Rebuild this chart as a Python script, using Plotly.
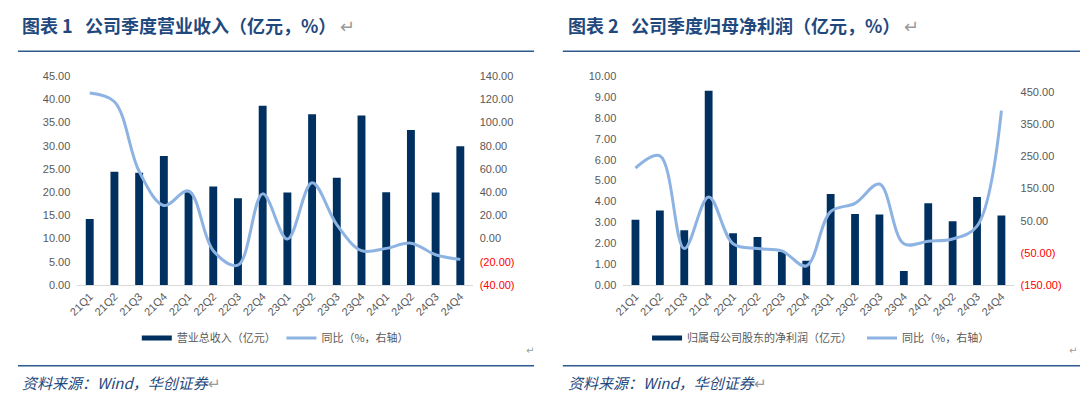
import plotly.graph_objects as go

# ---------------- data ----------------
quarters = ["21Q1", "21Q2", "21Q3", "21Q4", "22Q1", "22Q2", "22Q3", "22Q4",
            "23Q1", "23Q2", "23Q3", "23Q4", "24Q1", "24Q2", "24Q3", "24Q4"]

revenue = [14.2, 24.4, 24.2, 27.8, 20.0, 21.2, 18.7, 38.6,
           19.9, 36.8, 23.1, 36.5, 20.0, 33.4, 19.9, 29.9]
revenue_yoy = [125.5, 118.0, 58.0, 28.5, 41.0, -10.5, -23.0, 38.5,
               -0.5, 48.0, 12.0, -10.5, -8.5, -4.0, -14.0, -18.0]

net_profit = [3.12, 3.56, 2.62, 9.30, 2.48, 2.29, 1.58, 1.16,
              4.35, 3.40, 3.37, 0.67, 3.91, 3.05, 4.21, 3.33]
profit_yoy = [214.0, 252.0, -37.0, 124.0, -22.0, -37.0, -44.0, -91.0,
              78.0, 104.0, 164.0, -22.0, -14.0, -7.0, 33.0, 393.0]

left_ticks = [0, 5, 10, 15, 20, 25, 30, 35, 40, 45]
left_yoy_ticks = [-40, -20, 0, 20, 40, 60, 80, 100, 120, 140]
right_ticks = [0, 1, 2, 3, 4, 5, 6, 7, 8, 9, 10]
right_yoy_ticks = [-150, -50, 50, 150, 250, 350, 450]

title1 = "图表 1   公司季度营业收入（亿元，%）"
title2 = "图表 2   公司季度归母净利润（亿元，%）"
bar_name1 = "营业总收入（亿元）"
bar_name2 = "归属母公司股东的净利润（亿元）"
line_name = "同比（%，右轴）"
source = "资料来源：Wind，华创证券"

# ---------------- style ----------------
NAVY = "#00305F"
LBLUE = "#8DB3E2"
GREY = "#595959"
TITLE_C = "#1F497D"
W, H = 1080, 410


def fmt(v):
    if v < 0:
        return f"<span style='color:#FF0000'>({abs(v):.2f})</span>"
    return f"{v:.2f}"


def px_x(p):
    return p / W


def px_y(p):
    return 1 - p / H


fig = go.Figure()

# left chart
fig.add_trace(go.Bar(x=quarters, y=revenue, marker_color=NAVY, xaxis="x", yaxis="y",
                     showlegend=False, marker_line_width=0))
fig.add_trace(go.Scatter(x=quarters, y=revenue_yoy, mode="lines", xaxis="x", yaxis="y2",
                         line=dict(color=LBLUE, width=3, shape="spline", smoothing=1),
                         showlegend=False))
# right chart
fig.add_trace(go.Bar(x=quarters, y=net_profit, marker_color=NAVY, xaxis="x2", yaxis="y3",
                     showlegend=False, marker_line_width=0))
fig.add_trace(go.Scatter(x=quarters, y=profit_yoy, mode="lines", xaxis="x2", yaxis="y4",
                         line=dict(color=LBLUE, width=3, shape="spline", smoothing=1),
                         showlegend=False))

# legend entries
for name, color, width, leg, ax in [
    (bar_name1, NAVY, 5, "legend", "y"),
    (line_name, LBLUE, 3, "legend2", "y"),
    (bar_name2, NAVY, 5, "legend3", "y3"),
    (line_name, LBLUE, 3, "legend4", "y3"),
]:
    fig.add_trace(go.Scatter(x=[None], y=[None], mode="lines", name=name,
                             line=dict(color=color, width=width),
                             legend=leg, xaxis="x" if ax == "y" else "x2", yaxis=ax))

ydom = [px_y(287.3), px_y(72.3)]
tickfont = dict(family="Liberation Sans, Arial", size=11, color=GREY)
xaxis_common = dict(type="category", showgrid=False, showline=True, linecolor="#D9D9D9",
                    linewidth=1, ticks="", tickangle=-45, tickfont=tickfont, zeroline=False,
                    fixedrange=True)
yaxis_common = dict(showgrid=False, zeroline=False, showline=False, ticks="",
                    tickfont=tickfont, tickmode="array", ticklabelstandoff=6)

legfont = dict(family="Noto Sans CJK SC", size=11, color=GREY)


def leg(xpix):
    return dict(x=px_x(xpix - 5), y=px_y(342), xanchor="left", yanchor="middle",
                orientation="h", font=legfont, bgcolor="rgba(0,0,0,0)",
                itemwidth=30, tracegroupgap=0)


fig.update_layout(
    width=W, height=H, margin=dict(l=0, r=0, t=0, b=0),
    paper_bgcolor="white", plot_bgcolor="white",
    bargap=0.68,
    xaxis=dict(domain=[px_x(68), px_x(467)], anchor="y", **xaxis_common),
    yaxis=dict(domain=ydom, range=[0, 45], tickvals=left_ticks,
               ticktext=[fmt(v) for v in left_ticks], anchor="x", **yaxis_common),
    yaxis2=dict(range=[-40, 140], tickvals=left_yoy_ticks,
                ticktext=[fmt(v) for v in left_yoy_ticks], overlaying="y", side="right",
                anchor="x", **yaxis_common),
    xaxis2=dict(domain=[px_x(619), px_x(1013)], anchor="y3", **xaxis_common),
    yaxis3=dict(domain=ydom, range=[0, 10], tickvals=right_ticks,
                ticktext=[fmt(v) for v in right_ticks], anchor="x2", **yaxis_common),
    yaxis4=dict(range=[-150, 500], tickvals=right_yoy_ticks,
                ticktext=[fmt(v) for v in right_yoy_ticks], overlaying="y3", side="right",
                anchor="x2", **yaxis_common),
    legend=leg(133),
    legend2=leg(279),
    legend3=leg(648),
    legend4=leg(865),
)

# titles, source, separators
tfont = dict(family="Noto Sans CJK SC", size=18, color=TITLE_C)
for xpix, text in [(10, title1), (561, title2)]:
    fig.add_annotation(x=px_x(xpix), y=px_y(20), xref="paper", yref="paper",
                       text=f"<b>{text}</b><span style='color:#9A9A9A;font-weight:normal'> ↵</span>",
                       showarrow=False, xanchor="left", yanchor="middle", font=tfont)
    fig.add_annotation(x=px_x(xpix), y=px_y(388), xref="paper", yref="paper",
                       text=f"<i>{source}</i><span style='color:#9A9A9A'>↵</span>",
                       showarrow=False, xanchor="left", yanchor="middle",
                       font=dict(family="Noto Sans CJK SC", size=15, color=TITLE_C))

for x0, x1 in [(8, 529), (558, 1080)]:
    for ypix in (46.7, 370.5):
        fig.add_shape(type="line", xref="paper", yref="paper",
                      x0=px_x(x0), x1=px_x(x1), y0=px_y(ypix), y1=px_y(ypix),
                      line=dict(color="#2E5A8E", width=1.5))

for xpix in (531, 1079):
    fig.add_annotation(x=px_x(xpix), y=px_y(355), xref="paper", yref="paper", text="↵",
                       showarrow=False, xanchor="right", yanchor="middle",
                       font=dict(family="DejaVu Sans", size=10, color="#9A9A9A"))

fig.write_html("out.html", config={"displayModeBar": False, "staticPlot": True},
               post_script="document.body.style.margin='0';document.body.style.padding='0';")
